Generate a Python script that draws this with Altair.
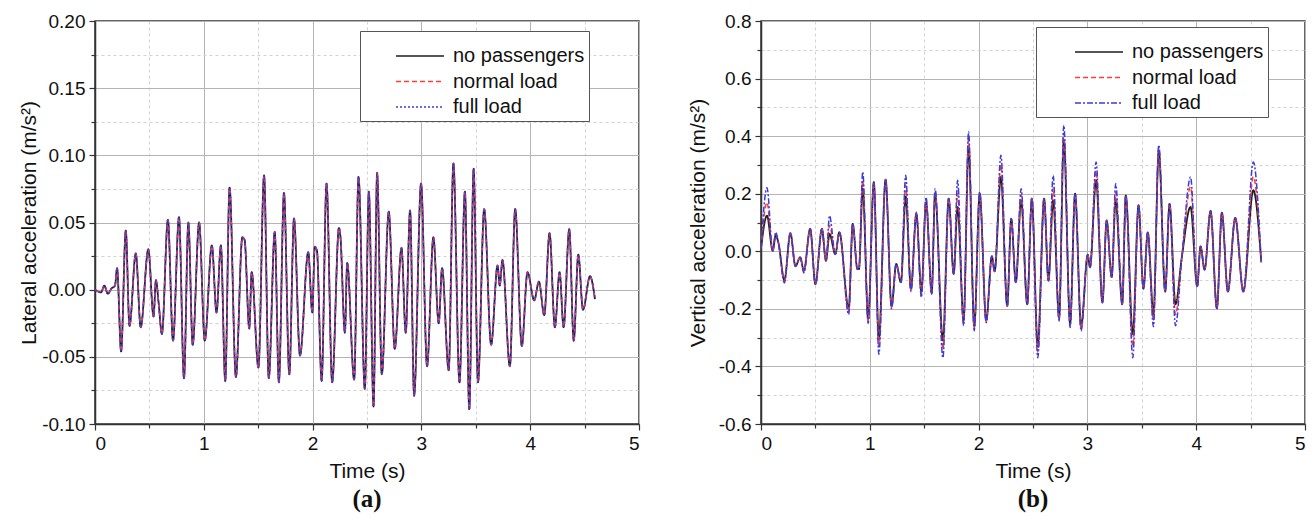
import altair as alt
import pandas as pd

SERIES = ["no passengers", "normal load", "full load"]
COLORS = ["#1e1e1e", "#ff3c3c", "#3c3cd8"]
DASH_A = [[1, 0], [5, 3], [2, 2]]
DASH_B = [[1, 0], [5, 3], [6, 2, 2, 2]]

# ---------- panel (a): lateral acceleration (all three curves coincide) ----------
t_a = [0.0, 0.055, 0.086, 0.117, 0.153, 0.184, 0.203, 0.24, 0.283, 0.317, 0.375, 0.42,
       0.49, 0.538, 0.56, 0.585, 0.615, 0.67, 0.717, 0.772, 0.818, 0.858, 0.898, 0.957,
       1.009, 1.074, 1.117, 1.157, 1.197, 1.237, 1.295, 1.354, 1.375, 1.418, 1.44, 1.502,
       1.554, 1.597, 1.652, 1.69, 1.737, 1.786, 1.829, 1.884, 1.96, 1.997, 2.02, 2.04,
       2.083, 2.128, 2.18, 2.242, 2.255, 2.297, 2.318, 2.382, 2.422, 2.48, 2.517, 2.56,
       2.593, 2.636, 2.70, 2.755, 2.817, 2.856, 2.896, 2.933, 2.997, 3.052, 3.11, 3.159,
       3.19, 3.251, 3.294, 3.35, 3.40, 3.44, 3.48, 3.52, 3.577, 3.641, 3.70, 3.72, 3.745,
       3.813, 3.862, 3.923, 3.975, 4.037, 4.08, 4.129, 4.178, 4.227, 4.27, 4.307, 4.359,
       4.40, 4.442, 4.485, 4.55, 4.595]
lat = [0.0, -0.002, 0.003, -0.003, 0.001, 0.003, 0.016, -0.046, 0.044, -0.027, 0.027, -0.028,
       0.030, -0.020, 0.007, -0.010, -0.033, 0.052, -0.038, 0.054, -0.066, 0.050, -0.041, 0.050,
       -0.038, 0.033, -0.017, 0.033, -0.068, 0.076, -0.065, 0.039, 0.037, -0.029, 0.013, -0.058,
       0.085, -0.066, 0.043, -0.069, 0.072, -0.063, 0.053, -0.049, 0.028, -0.017, 0.032, 0.029,
       -0.068, 0.079, -0.069, 0.046, 0.040, -0.032, 0.020, -0.067, 0.084, -0.074, 0.073, -0.087,
       0.087, -0.063, 0.058, -0.044, 0.031, -0.032, 0.059, -0.079, 0.079, -0.057, 0.039, -0.025,
       0.016, -0.060, 0.094, -0.069, 0.073, -0.089, 0.090, -0.069, 0.060, -0.041, 0.018, 0.003, 0.022,
       -0.057, 0.060, -0.042, 0.013, -0.008, 0.006, -0.019, 0.042, -0.028, 0.013, -0.028, 0.045,
       -0.038, 0.026, -0.015, 0.010, -0.007]

# ---------- panel (b): vertical acceleration ----------
t_b = [0.0, 0.055, 0.108, 0.135, 0.16, 0.215, 0.27, 0.317, 0.36, 0.394, 0.452, 0.50, 0.56,
       0.597, 0.63, 0.683, 0.72, 0.806, 0.843, 0.886, 0.90, 0.935, 0.985, 1.037, 1.083, 1.145,
       1.20, 1.243, 1.286, 1.33, 1.378, 1.428, 1.474, 1.517, 1.569, 1.60, 1.672, 1.725, 1.771,
       1.807, 1.862, 1.908, 1.96, 2.01, 2.07, 2.122, 2.147, 2.205, 2.263, 2.30, 2.342, 2.391,
       2.447, 2.489, 2.544, 2.602, 2.642, 2.685, 2.74, 2.783, 2.841, 2.887, 2.942, 3.003, 3.024,
       3.08, 3.138, 3.177, 3.223, 3.26, 3.32, 3.353, 3.417, 3.47, 3.515, 3.555, 3.607, 3.656,
       3.715, 3.755, 3.81, 3.868, 3.948, 4.009, 4.04, 4.077, 4.132, 4.19, 4.236, 4.291, 4.359,
       4.433, 4.525, 4.598]
vert_none = [0.01, 0.124, 0.002, 0.055, 0.03, -0.10, 0.063, -0.052, -0.021, -0.067, 0.078, -0.114, 0.078,
             -0.033, 0.06, -0.01, 0.066, -0.20, 0.095, -0.062, -0.062, 0.217, -0.235, 0.24, -0.306, 0.249,
             -0.19, -0.044, -0.108, 0.19, -0.13, 0.13, -0.14, 0.17, -0.145, 0.20, -0.31, 0.183, -0.079,
             0.154, -0.24, 0.363, -0.26, 0.20, -0.24, -0.017, -0.07, 0.258, -0.19, 0.113, -0.108, 0.177,
             -0.184, 0.183, -0.329, 0.183, -0.102, 0.177, -0.23, 0.386, -0.25, 0.20, -0.26, -0.012, -0.056,
             0.247, -0.178, 0.107, -0.09, 0.177, -0.184, 0.194, -0.288, 0.16, -0.13, 0.066, -0.218, 0.35,
             -0.14, 0.165, -0.184, -0.02, 0.154, -0.122, 0.017, -0.064, 0.14, -0.198, 0.134, -0.14, 0.116,
             -0.14, 0.212, -0.038]
vert_normal = [0.01, 0.17, 0.002, 0.06, 0.03, -0.105, 0.063, -0.052, -0.021, -0.07, 0.078, -0.114, 0.078,
               -0.033, 0.09, -0.01, 0.066, -0.21, 0.095, -0.062, -0.062, 0.245, -0.243, 0.24, -0.33, 0.249,
               -0.195, -0.044, -0.108, 0.23, -0.135, 0.133, -0.15, 0.18, -0.147, 0.21, -0.34, 0.183, -0.079,
               0.2, -0.25, 0.39, -0.268, 0.203, -0.244, -0.017, -0.07, 0.3, -0.19, 0.113, -0.108, 0.197,
               -0.184, 0.183, -0.35, 0.183, -0.102, 0.22, -0.236, 0.41, -0.258, 0.20, -0.268, -0.012, -0.056,
               0.28, -0.178, 0.107, -0.09, 0.205, -0.184, 0.194, -0.33, 0.16, -0.13, 0.066, -0.24, 0.36,
               -0.14, 0.165, -0.22, -0.02, 0.224, -0.122, 0.017, -0.064, 0.14, -0.198, 0.134, -0.14, 0.116,
               -0.14, 0.259, -0.038]
vert_full = [0.01, 0.221, 0.002, 0.066, 0.03, -0.11, 0.063, -0.052, -0.021, -0.075, 0.078, -0.114, 0.078,
             -0.033, 0.124, -0.01, 0.066, -0.22, 0.095, -0.062, -0.062, 0.276, -0.251, 0.24, -0.358, 0.249,
             -0.2, -0.044, -0.108, 0.264, -0.14, 0.136, -0.16, 0.188, -0.149, 0.217, -0.37, 0.183, -0.079,
             0.247, -0.259, 0.415, -0.276, 0.206, -0.248, -0.017, -0.07, 0.334, -0.19, 0.113, -0.108, 0.217,
             -0.184, 0.183, -0.37, 0.183, -0.102, 0.264, -0.242, 0.438, -0.265, 0.20, -0.277, -0.012, -0.056,
             0.31, -0.178, 0.107, -0.09, 0.235, -0.184, 0.194, -0.37, 0.16, -0.13, 0.066, -0.262, 0.369,
             -0.14, 0.165, -0.259, -0.02, 0.258, -0.122, 0.017, -0.064, 0.14, -0.198, 0.134, -0.14, 0.116,
             -0.14, 0.31, -0.038]

x_ticks = [0, 0.5, 1, 1.5, 2, 2.5, 3, 3.5, 4, 4.5, 5]
ya_ticks = [-0.1, -0.075, -0.05, -0.025, 0.0, 0.025, 0.05, 0.075, 0.1, 0.125, 0.15, 0.175, 0.2]
yb_ticks = [-0.6, -0.5, -0.4, -0.3, -0.2, -0.1, 0.0, 0.1, 0.2, 0.3, 0.4, 0.5, 0.6, 0.7, 0.8]

FONT = "Liberation Sans"


def frame(t, vals, s):
    return pd.DataFrame({"t": t, "v": vals, "series": s})


def axis(values, minor_test, label_expr, title, title_pad):
    return alt.Axis(
        values=values,
        labelExpr=label_expr,
        title=title,
        titleFont=FONT, titleFontSize=21, titleFontWeight="normal", titleColor="#111",
        titlePadding=title_pad,
        labelFont=FONT, labelFontSize=19, labelColor="#111", labelPadding=4,
        domainColor="#333", domainWidth=1.5,
        tickColor="#333", tickWidth=1.2,
        tickSize={"condition": {"test": minor_test, "value": 4}, "value": 6},
        grid=True,
        gridColor={"condition": {"test": minor_test, "value": "#d2d2d2"}, "value": "#b4b4b4"},
        gridDash={"condition": {"test": minor_test, "value": [3, 3]}, "value": []},
        gridWidth=1,
    )


def panel(tvals, series_vals, dashes, yticks, ydom, ylabel_expr, yminor, ytitle, ytpad,
          letter, lx, ly, sym_off):
    xaxis = axis(x_ticks, "datum.value % 1 != 0",
                 "datum.value % 1 == 0 ? format(datum.value, 'd') : ''", "Time (s)", 7)
    yaxis = axis(yticks, yminor, ylabel_expr, ytitle, ytpad)
    layers = []
    for s, vals in zip(SERIES, series_vals):
        layers.append(
            alt.Chart(frame(tvals, vals, s)).mark_line(
                strokeWidth=1.8 if s == "no passengers" else 1.5, interpolate="monotone"
            ).encode(
                x=alt.X("t:Q", scale=alt.Scale(domain=[0, 5], nice=False), axis=xaxis),
                y=alt.Y("v:Q", scale=alt.Scale(domain=ydom, nice=False, zero=False), axis=yaxis),
                color=alt.Color("series:N", scale=alt.Scale(domain=SERIES, range=COLORS),
                                legend=alt.Legend(
                                    title=" ", titleFontSize=8, titlePadding=3,
                                    orient="none", legendX=lx, legendY=ly,
                                    fillColor="white", strokeColor="#555", padding=4,
                                    symbolType="stroke", symbolSize=2304, symbolStrokeWidth=1.5,
                                    symbolOffset=sym_off, labelOffset=8, clipHeight=20,
                                    labelFont=FONT, labelFontSize=20, labelColor="#111",
                                    rowPadding=5.5, labelLimit=300)),
                strokeDash=alt.StrokeDash("series:N", scale=alt.Scale(domain=SERIES, range=dashes),
                                          legend=None),
            )
        )
    return alt.layer(*layers).properties(
        width=544, height=403,
        title=alt.TitleParams(letter, orient="bottom", font="Liberation Serif", fontSize=25,
                              fontWeight="bold", color="#111", offset=6),
    )


left = panel(t_a, [lat, lat, lat], DASH_A, ya_ticks, [-0.10, 0.20],
             "round(datum.value*40) % 2 == 0 ? replace(format(datum.value, '.2f'), '\u2212', '-') : ''",
             "round(datum.value*40) % 2 != 0", "Lateral acceleration (m/s\u00b2)", 2, "(a)", 265, 10, 31)
right = panel(t_b, [vert_none, vert_normal, vert_full], DASH_B, yb_ticks, [-0.6, 0.8],
              "round(datum.value*10) % 2 == 0 ? replace(format(datum.value, '.1f'), '\u2212', '-') : ''",
              "round(datum.value*10) % 2 != 0", "Vertical acceleration (m/s\u00b2)", 10, "(b)", 275, 6, 34)

chart = alt.hconcat(left, right, spacing=45).resolve_scale(
    color="independent", strokeDash="independent"
).resolve_legend(color="independent", strokeDash="independent").configure_view(
    stroke="#333", strokeWidth=1.5
).properties(padding={"top": 11, "left": 17, "right": 5, "bottom": 5}, background="white")

chart.save("out.html", embed_options={"renderer": "svg", "actions": False})
